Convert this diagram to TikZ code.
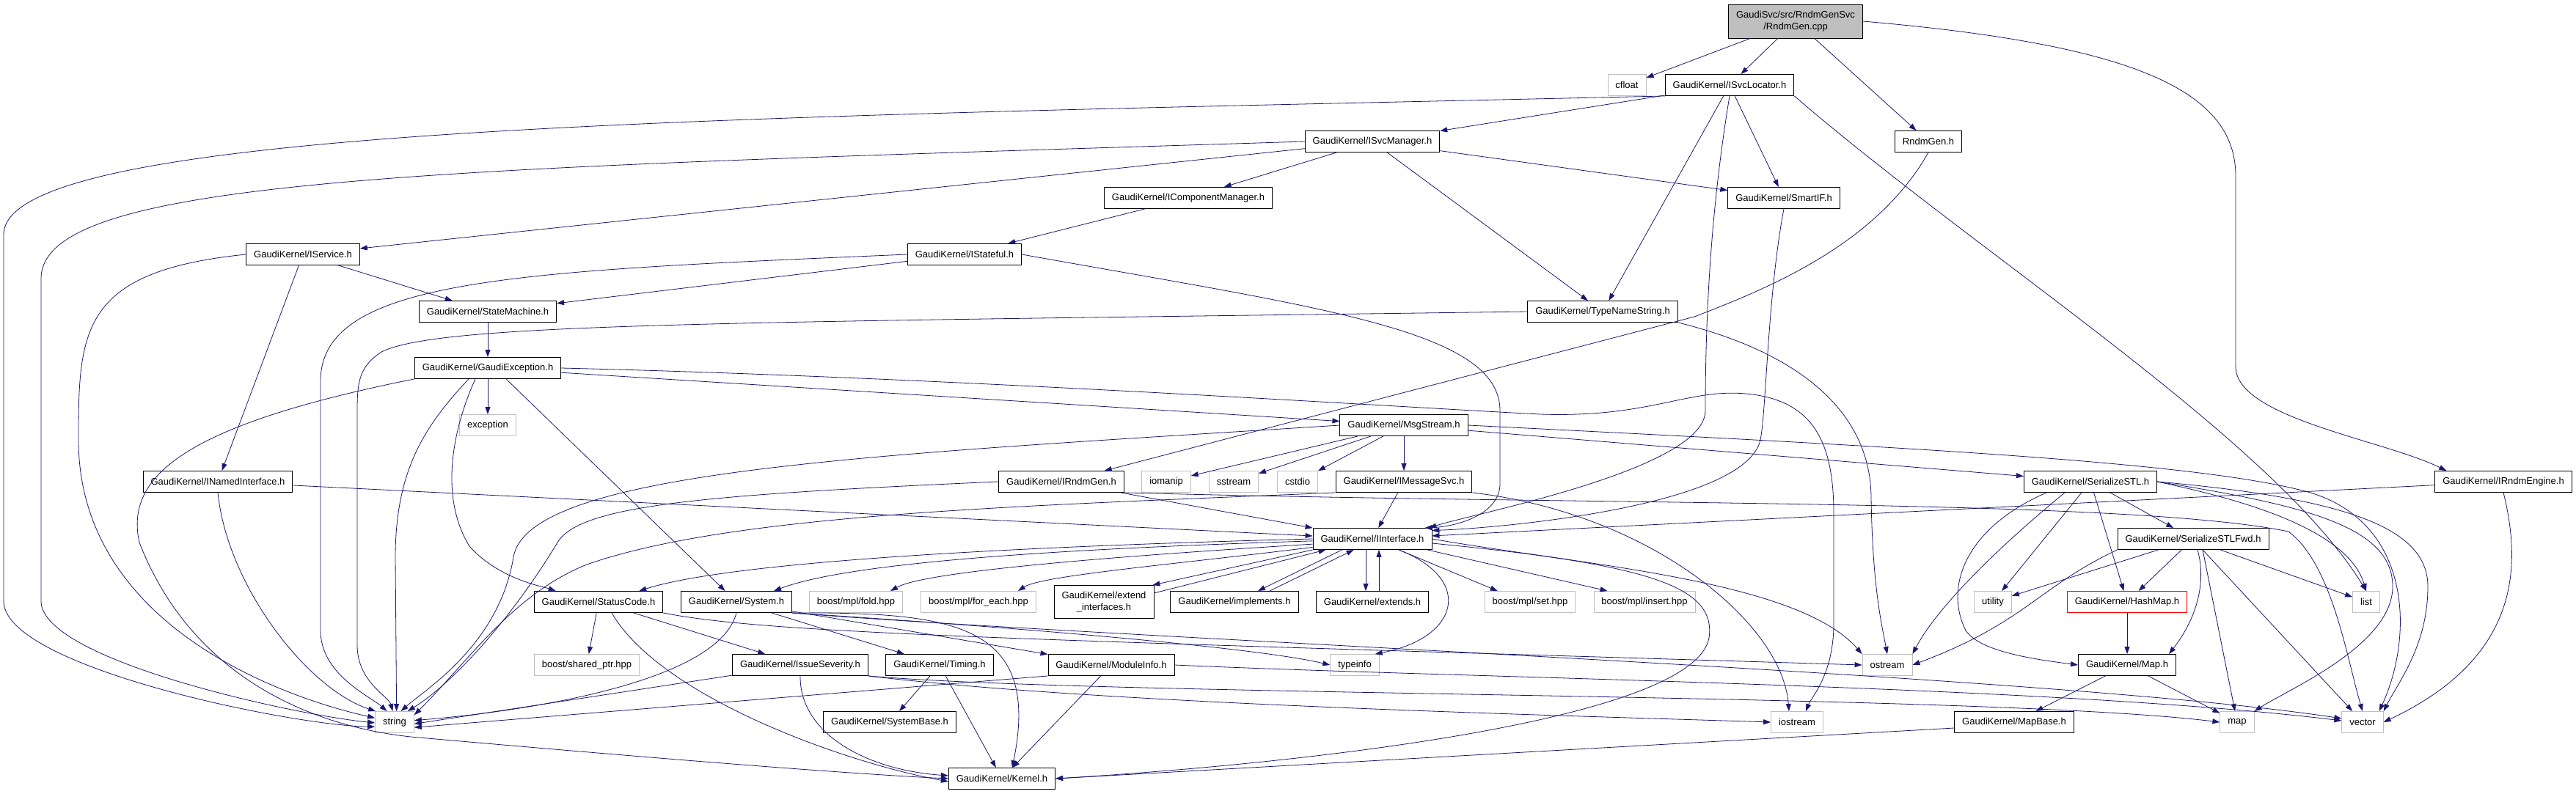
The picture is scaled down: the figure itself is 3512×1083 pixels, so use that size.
\documentclass[tikz,border=0pt]{standalone}
\usepackage{fontspec}
\setmainfont{Liberation Sans}
\usetikzlibrary{arrows.meta}
\definecolor{edgeblue}{HTML}{191970}
\definecolor{extgray}{HTML}{BFBFBF}
\tikzset{
  hdr/.style={draw=black, fill=white, line width=0.9pt, inner xsep=10.5pt, inner ysep=0pt,
    minimum height=29pt, align=center, font=\fontsize{13}{16.5}\selectfont},
  extbox/.style={hdr, draw=extgray},
  rootbox/.style={hdr, fill=extgray, minimum height=46pt},
  truncbox/.style={hdr, draw=red},
  dep/.style={draw=edgeblue, line width=0.8pt, -{Triangle[length=10pt,width=7pt]}}
}

\begin{document}
\begin{tikzpicture}[x=1pt,y=-1pt]
\useasboundingbox (0,0) rectangle (3512,1083);

% rows of the include graph
\node[rootbox] (cpp) at (2448,29) {GaudiSvc/src/RndmGenSvc\\/RndmGen.cpp};
\node[extbox] (cfl) at (2218,116) {cfloat};
\node[hdr] (isl) at (2358,116) {GaudiKernel/ISvcLocator.h};
\node[hdr] (ism) at (1871,193) {GaudiKernel/ISvcManager.h};
\node[hdr] (rgh) at (2629,193) {RndmGen.h};
\node[hdr] (icm) at (1620,270) {GaudiKernel/IComponentManager.h};
\node[hdr] (smart) at (2432,270) {GaudiKernel/SmartIF.h};
\node[hdr] (isv) at (413,347) {GaudiKernel/IService.h};
\node[hdr] (ist) at (1315,347) {GaudiKernel/IStateful.h};
\node[hdr] (sm) at (665,425) {GaudiKernel/StateMachine.h};
\node[hdr] (tns) at (2185,425) {GaudiKernel/TypeNameString.h};
\node[hdr] (ge) at (665,502) {GaudiKernel/GaudiException.h};
\node[extbox] (exc) at (665,580) {exception};
\node[hdr] (ms) at (1914,580) {GaudiKernel/MsgStream.h};
\node[hdr] (ini) at (297,657) {GaudiKernel/INamedInterface.h};
\node[hdr] (irg) at (1447,657) {GaudiKernel/IRndmGen.h};
\node[extbox] (iom) at (1590,657) {iomanip};
\node[extbox] (sst) at (1682,657) {sstream};
\node[extbox] (cst) at (1769,657) {cstdio};
\node[hdr] (ims) at (1914,657) {GaudiKernel/IMessageSvc.h};
\node[hdr] (ssl) at (2850,657) {GaudiKernel/SerializeSTL.h};
\node[hdr] (ire) at (3413,657) {GaudiKernel/IRndmEngine.h};
\node[hdr] (ii) at (1871,735) {GaudiKernel/IInterface.h};
\node[hdr] (ssf) at (2990,735) {GaudiKernel/SerializeSTLFwd.h};
\node[hdr] (sc) at (816,821) {GaudiKernel/StatusCode.h};
\node[hdr] (sys) at (1004,821) {GaudiKernel/System.h};
\node[extbox] (fold) at (1167,821) {boost/mpl/fold.hpp};
\node[extbox] (fe) at (1334,821) {boost/mpl/for\_each.hpp};
\node[hdr, minimum height=45pt] (ei) at (1505,821) {GaudiKernel/extend\\\_interfaces.h};
\node[hdr] (impl) at (1683,821) {GaudiKernel/implements.h};
\node[hdr] (ext) at (1871,821) {GaudiKernel/extends.h};
\node[extbox] (set) at (2086,821) {boost/mpl/set.hpp};
\node[extbox] (ins) at (2242,821) {boost/mpl/insert.hpp};
\node[extbox] (util) at (2717,821) {utility};
\node[truncbox] (hm) at (2900,821) {GaudiKernel/HashMap.h};
\node[extbox] (lst) at (3226,821) {list};
\node[extbox] (bsp) at (800,907) {boost/shared\_ptr.hpp};
\node[hdr] (is) at (1091,907) {GaudiKernel/IssueSeverity.h};
\node[hdr] (tim) at (1281,907) {GaudiKernel/Timing.h};
\node[hdr] (mi) at (1515,907) {GaudiKernel/ModuleInfo.h};
\node[extbox] (ti) at (1847,907) {typeinfo};
\node[extbox] (os) at (2573,907) {ostream};
\node[hdr] (mp) at (2900,907) {GaudiKernel/Map.h};
\node[extbox] (str) at (538,985) {string};
\node[hdr] (sb) at (1213,985) {GaudiKernel/SystemBase.h};
\node[extbox] (ios) at (2450,985) {iostream};
\node[hdr] (mb) at (2746,985) {GaudiKernel/MapBase.h};
\node[extbox] (map) at (3050,985) {map};
\node[extbox] (vec) at (3221,985) {vector};
\node[hdr] (kern) at (1366,1062) {GaudiKernel/Kernel.h};

% RndmGen.cpp
\draw[dep] (cpp) -- (cfl);
\draw[dep] (cpp) -- (isl);
\draw[dep] (cpp) -- (rgh);
\draw[dep] (cpp.east) .. controls (2900,60) and (3048,120) .. (3048,240) -- (3048,500)
  .. controls (3048,570) and (3250,600) .. ([xshift=16pt]ire.north west);

% ISvcLocator.h
\draw[dep] (isl.south west) .. controls (1000,160) and (5,170) .. (5,320) -- (5,820)
  .. controls (5,910) and (400,990) .. (str.193);
\draw[dep] (isl) -- (ism);
\draw[dep] (isl) -- (tns);
\draw[dep] (isl) -- (smart);
\draw[dep] (isl.south) .. controls (2330,300) and (2325,450) .. (2325,560)
  .. controls (2325,640) and (2010,700) .. ([xshift=-4pt]ii.north east);
\draw[dep] (isl.south east) .. controls (2700,350) and (3100,600) .. (lst.north);

% ISvcManager.h and its branch
\draw[dep] (ism.west) .. controls (600,230) and (56,240) .. (56,380) -- (56,820)
  .. controls (56,900) and (400,975) .. (str.182);
\draw[dep] (ism) -- (isv);
\draw[dep] (ism) -- (icm);
\draw[dep] (ism) -- (smart);
\draw[dep] (ism) -- (tns);
\draw[dep] (icm) -- (ist);
\draw[dep] (rgh.south) .. controls (2560,330) and (2420,390) .. (2310,432)
  -- ([xshift=-27pt]irg.north east);
\draw[dep] (smart.south) .. controls (2410,400) and (2408,560) .. (2400,600)
  .. controls (2380,690) and (2050,720) .. (ii.8);

% IService.h, IStateful.h, TypeNameString.h
\draw[dep] (isv.west) .. controls (110,370) and (107,450) .. (107,600)
  .. controls (107,850) and (380,950) .. (str.168);
\draw[dep] (isv) -- (ini);
\draw[dep] (isv) -- (sm);
\draw[dep] (ist) -- (sm);
\draw[dep] (ist.west) .. controls (700,370) and (437,380) .. (437,520) -- (437,860)
  .. controls (437,920) and (505,950) .. (str.125);
\draw[dep] (ist.east) .. controls (1800,420) and (2045,450) .. (2045,560) -- (2045,660)
  .. controls (2045,700) and (1990,718) .. ([xshift=-10pt]ii.north east);
\draw[dep] (tns.west) .. controls (1000,440) and (600,440) .. (520,480)
  .. controls (490,500) and (487,520) .. (487,560) -- (487,880)
  .. controls (487,930) and (530,950) .. (str.100);
\draw[dep] (tns.south east) .. controls (2450,480) and (2551,560) .. (2551,680)
  .. controls (2553,800) and (2565,850) .. (os.north);

% GaudiException.h
\draw[dep] (sm) -- (ge);
\draw[dep] (ge) -- (exc);
\draw[dep] (ge) -- (ms);
\draw[dep] ([xshift=25pt]ge.south) -- (sys);
\draw[dep] ([xshift=-26pt]ge.south) .. controls (580,580) and (539,640) .. (539,760) -- (str.80);
\draw[dep] ([xshift=-17pt]ge.south) .. controls (615,590) and (600,680) .. (640,745)
  .. controls (680,790) and (740,800) .. ([xshift=30pt]sc.north west);
\draw[dep] (ge.south west) .. controls (250,580) and (170,650) .. (190,740)
  .. controls (260,920) and (420,990) .. (560,1005) .. controls (900,1035) and (1150,1055) .. (kern.west);
\draw[dep] (ge.east) .. controls (1300,515) and (1900,555) .. (2100,565)
  .. controls (2250,570) and (2300,530) .. (2380,537) .. controls (2470,545) and (2500,600) .. (2500,700)
  -- (2500,850) .. controls (2500,920) and (2470,950) .. ([xshift=12pt]ios.north);

% INamedInterface.h
\draw[dep] (ini.south) .. controls (310,800) and (420,940) .. (str.150);
\draw[dep] (ini) -- (ii);

% MsgStream.h
\draw[dep] (ms.west) .. controls (1200,620) and (720,640) .. (700,760)
  .. controls (680,880) and (580,940) .. (str.60);
\draw[dep] (ms) -- (iom);
\draw[dep] (ms) -- (sst);
\draw[dep] (ms) -- (cst);
\draw[dep] (ms) -- (ims);
\draw[dep] (ms) -- (ssl);
\draw[dep] (ms.east) .. controls (2600,610) and (3000,630) .. (3150,672)
  .. controls (3290,715) and (3290,870) .. ([xshift=-6pt]vec.north east);

% IRndmGen.h, IMessageSvc.h, IRndmEngine.h
\draw[dep] (irg.west) .. controls (950,675) and (790,690) .. (760,740)
  .. controls (700,840) and (620,930) .. (str.40);
\draw[dep] (irg) -- (ii);
\draw[dep] (irg.south east) .. controls (2200,690) and (2900,680) .. (3120,725)
  .. controls (3180,770) and (3200,900) .. (vec.north);
\draw[dep] (ims.south west) .. controls (1400,690) and (1000,700) .. (800,770)
  .. controls (700,810) and (640,900) .. (str.20);
\draw[dep] (ims) -- (ii);
\draw[dep] (ims.south east) .. controls (2250,700) and (2430,850) .. ([xshift=-11pt]ios.north);
\draw[dep] (ire) -- (ii);
\draw[dep] (ire.south) .. controls (3440,780) and (3430,900) .. (vec.east);

% SerializeSTL.h and SerializeSTLFwd.h
\draw[dep] (ssl) -- (ssf);
\draw[dep] (ssl) -- (util);
\draw[dep] (ssl) -- (hm);
\draw[dep] ([xshift=-60pt]ssl.south) .. controls (2680,720) and (2650,800) .. (2680,860)
  .. controls (2700,890) and (2780,900) .. (mp.west);
\draw[dep] ([xshift=-35pt]ssl.south) .. controls (2720,750) and (2640,830) .. (os.north east);
\draw[dep] (ssl.east) .. controls (3050,680) and (3200,720) .. (lst.north);
\draw[dep] (ssl.east) .. controls (3150,690) and (3262,720) .. (3262,800)
  .. controls (3262,880) and (3120,940) .. (map.north east);
\draw[dep] (ssl.east) .. controls (3200,680) and (3310,720) .. (3310,800)
  .. controls (3310,880) and (3270,930) .. (vec.north east);
\draw[dep] (ssf) -- (util);
\draw[dep] (ssf) -- (hm);
\draw[dep] (ssf.south west) .. controls (2780,800) and (2760,850) .. (os.east);
\draw[dep] ([xshift=6pt]ssf.south) .. controls (3010,800) and (2990,850) .. ([xshift=-10pt]mp.north east);
\draw[dep] ([xshift=13pt]ssf.south) -- (map);
\draw[dep] ([xshift=13pt]ssf.south) -- (vec);
\draw[dep] ([xshift=37pt]ssf.south) -- (lst);
\draw[dep] (hm) -- (mp);
\draw[dep] (mp) -- (mb);
\draw[dep] (mp) -- (map);
\draw[dep] ([yshift=-8pt]mb.west) -- (kern.east);

% IInterface.h
\draw[dep] (ii.west) .. controls (1400,745) and (1000,765) .. ([xshift=-33pt]sc.north east);
\draw[dep] (ii.182) .. controls (1400,750) and (1150,770) .. ([xshift=-25pt]sys.north east);
\draw[dep] (ii.185) .. controls (1500,760) and (1260,780) .. ([xshift=-17pt]fold.north east);
\draw[dep] (ii.188) .. controls (1600,770) and (1420,785) .. ([xshift=-25pt]fe.north east);
\draw[dep] (ii.south west) -- ([xshift=-2pt]ei.north east);
\draw[dep] (ei.10) -- ([xshift=18pt]ii.south west);
\draw[dep] ([xshift=40pt]ii.south west) -- ([xshift=32pt]impl.north);
\draw[dep] ([xshift=48pt]impl.north) -- ([xshift=56pt]ii.south west);
\draw[dep] ([xshift=-9pt]ii.south) -- ([xshift=-9pt]ext.north);
\draw[dep] ([xshift=9pt]ext.north) -- ([xshift=9pt]ii.south);
\draw[dep] ([xshift=36pt]ii.south) -- ([xshift=18pt]set.north west);
\draw[dep] ([xshift=75pt]ii.south) -- ([xshift=19pt]ins.north west);
\draw[dep] ([xshift=36pt]ii.south) .. controls (2010,790) and (1990,870) .. ([xshift=-6pt]ti.north east);
\draw[dep] (ii.east) .. controls (2150,770) and (2450,790) .. (os.north west);
\draw[dep] ([yshift=-6pt]ii.east) .. controls (2250,770) and (2340,800) .. (2330,870)
  .. controls (2310,980) and (1800,1040) .. (kern.east);

% StatusCode.h, System.h, IssueSeverity.h, Timing.h, ModuleInfo.h
\draw[dep] (sc) -- (bsp);
\draw[dep] (sc) -- (is);
\draw[dep] ([xshift=18pt]sc.south) .. controls (900,950) and (1150,1040) .. ([yshift=-4pt]kern.west);
\draw[dep] (sc.south east) .. controls (1050,865) and (1400,872) .. (os.west);
\draw[dep] (sys.south) .. controls (980,930) and (720,970) .. (str.5);
\draw[dep] (sys) -- (tim);
\draw[dep] (sys) -- (mi);
\draw[dep] (sys.south east) .. controls (1300,850) and (1700,880) .. (ti.west);
\draw[dep] (sys.south east) .. controls (1300,835) and (1420,850) .. ([xshift=14pt]kern.north);
\draw[dep] (sys.south east) .. controls (1500,870) and (2800,920) .. ([yshift=5pt]vec.west);
\draw[dep] (is) -- (str.-5);
\draw[dep] (is.south) .. controls (1090,1000) and (1180,1050) .. ([yshift=4pt]kern.west);
\draw[dep] (is.south east) .. controls (1500,960) and (2100,975) .. (ios.west);
\draw[dep] (is.south east) .. controls (1500,950) and (2700,945) .. (map.west);
\draw[dep] (tim) -- (sb);
\draw[dep] (tim) -- (kern);
\draw[dep] (mi) -- (kern);
\draw[dep] (mi.south west) -- (str.-15);
\draw[dep] (mi.east) .. controls (2000,925) and (2800,935) .. ([yshift=2pt]vec.west);

\end{tikzpicture}
\end{document}
